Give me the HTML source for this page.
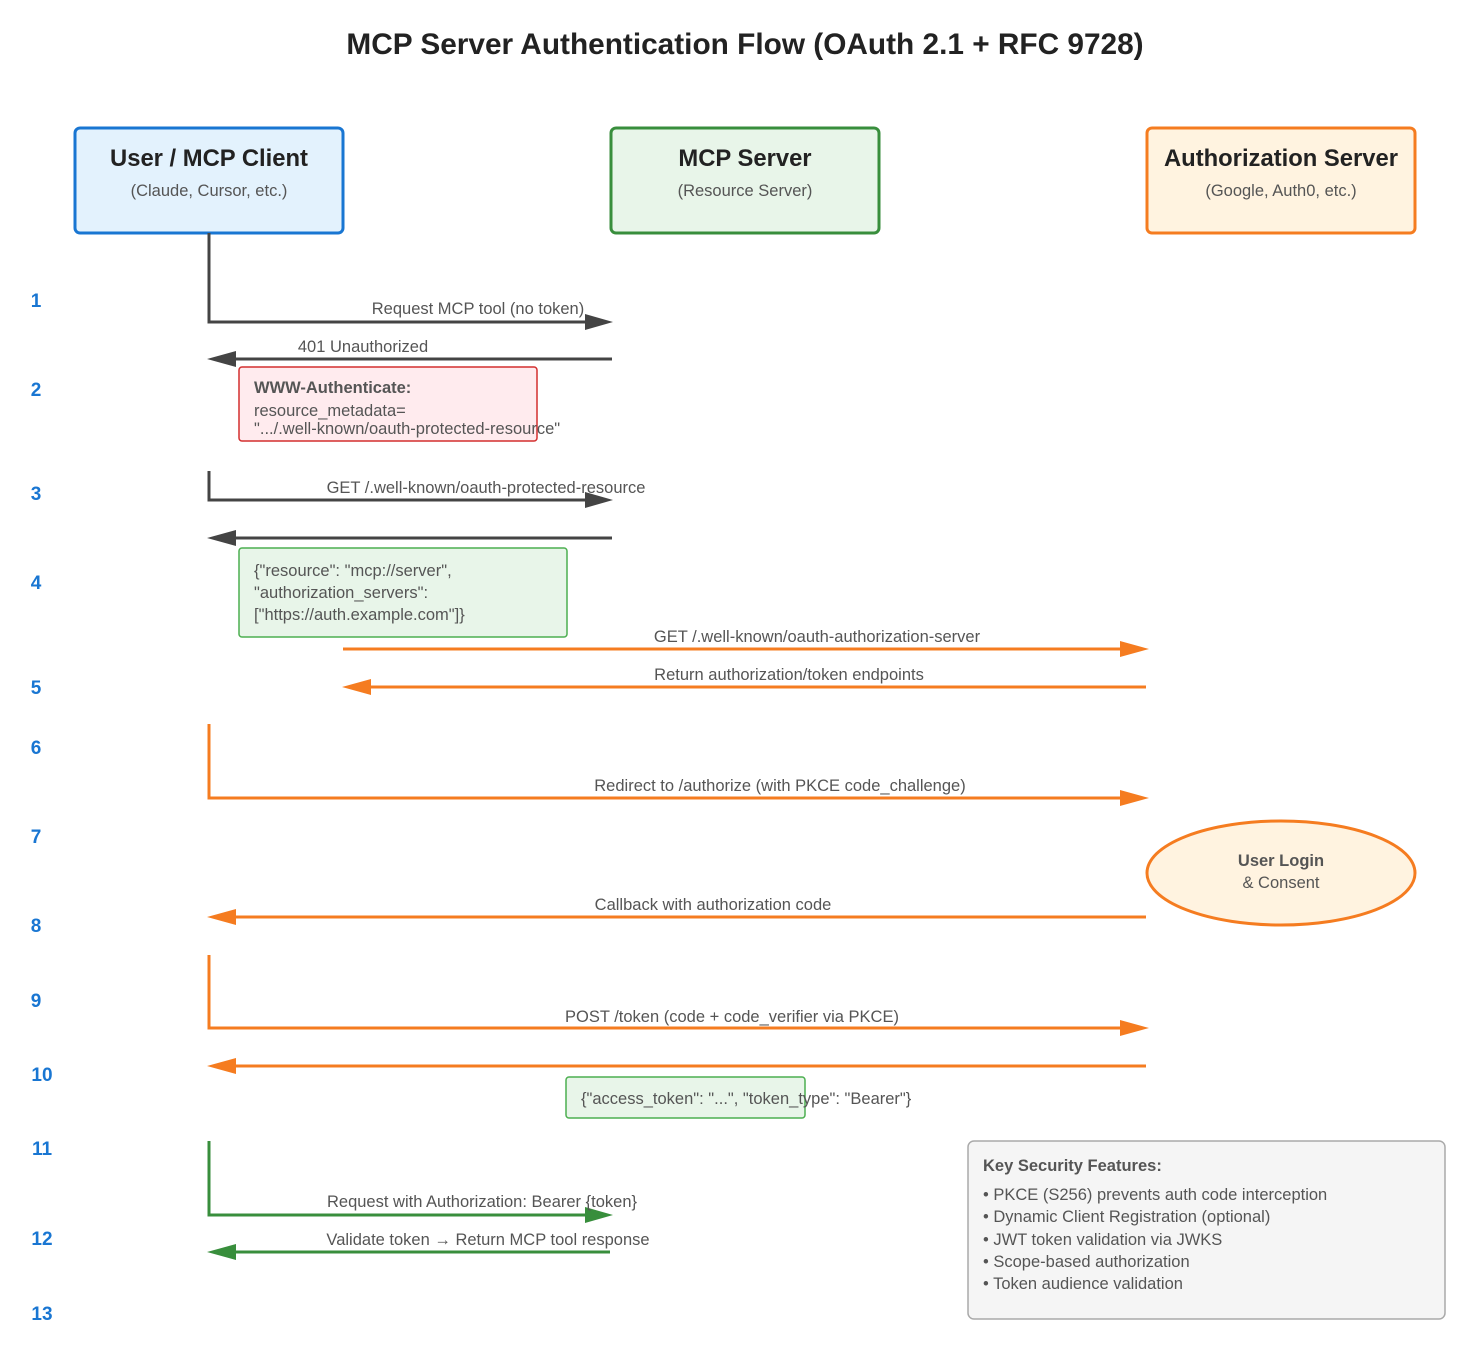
<!DOCTYPE html>
<html><head><meta charset="utf-8"><style>
html,body{margin:0;padding:0;background:#fff;}
svg{display:block;font-family:"Liberation Sans",Arial,sans-serif;}
.lbl{font-size:16.5px;fill:#555;}
.num{font-size:19px;font-weight:bold;fill:#1976d2;}
</style></head><body>
<svg width="1482" height="1350" viewBox="0 0 1482 1350" xmlns="http://www.w3.org/2000/svg">
<text x="745" y="54" text-anchor="middle" font-size="29.8" font-weight="bold" fill="#222">MCP Server Authentication Flow (OAuth 2.1 + RFC 9728)</text>

<rect x="75" y="128" width="268" height="105" rx="5" fill="#e3f2fd" stroke="#1976d2" stroke-width="3"/>
<text x="209" y="166" text-anchor="middle" font-size="23.8" font-weight="bold" fill="#222">User / MCP Client</text>
<text x="209" y="196" text-anchor="middle" class="lbl">(Claude, Cursor, etc.)</text>
<rect x="611" y="128" width="268" height="105" rx="5" fill="#e8f5e9" stroke="#388e3c" stroke-width="3"/>
<text x="745" y="166" text-anchor="middle" font-size="23.8" font-weight="bold" fill="#222">MCP Server</text>
<text x="745" y="196" text-anchor="middle" class="lbl">(Resource Server)</text>
<rect x="1147" y="128" width="268" height="105" rx="5" fill="#fff3e0" stroke="#f57c20" stroke-width="3"/>
<text x="1281" y="166" text-anchor="middle" font-size="23.8" font-weight="bold" fill="#222">Authorization Server</text>
<text x="1281" y="196" text-anchor="middle" class="lbl">(Google, Auth0, etc.)</text>

<text x="36" y="307" text-anchor="middle" class="num">1</text>
<text x="36" y="396" text-anchor="middle" class="num">2</text>
<text x="36" y="500" text-anchor="middle" class="num">3</text>
<text x="36" y="589" text-anchor="middle" class="num">4</text>
<text x="36" y="694" text-anchor="middle" class="num">5</text>
<text x="36" y="754" text-anchor="middle" class="num">6</text>
<text x="36" y="843" text-anchor="middle" class="num">7</text>
<text x="36" y="932" text-anchor="middle" class="num">8</text>
<text x="36" y="1007" text-anchor="middle" class="num">9</text>
<text x="42" y="1081" text-anchor="middle" class="num">10</text>
<text x="42" y="1155" text-anchor="middle" class="num">11</text>
<text x="42" y="1245" text-anchor="middle" class="num">12</text>
<text x="42" y="1320" text-anchor="middle" class="num">13</text>

<g fill="none" stroke="#444" stroke-width="3">
<polyline points="209,233 209,322 590,322"/>
<line x1="612" y1="359" x2="230" y2="359"/>
<polyline points="209,471 209,500 590,500"/>
<line x1="612" y1="538" x2="230" y2="538"/>
</g>
<g fill="#444">
<polygon points="585,314 613,322 585,330"/>
<polygon points="236,351 207,359 236,367"/>
<polygon points="585,492 613,500 585,508"/>
<polygon points="236,530 207,538 236,546"/>
</g>
<text x="478" y="314" text-anchor="middle" class="lbl">Request MCP tool (no token)</text>
<text x="363" y="352" text-anchor="middle" class="lbl">401 Unauthorized</text>
<text x="486" y="493" text-anchor="middle" class="lbl">GET /.well-known/oauth-protected-resource</text>

<rect x="239" y="367" width="298" height="74" rx="3" fill="#ffebee" stroke="#d32f2f" stroke-width="1.5"/>
<text x="254" y="393" font-size="16.5" font-weight="bold" fill="#555">WWW-Authenticate:</text>
<text x="254" y="416" class="lbl">resource_metadata=</text>
<text x="254" y="434" class="lbl">".../.well-known/oauth-protected-resource"</text>

<rect x="239" y="548" width="328" height="89" rx="3" fill="#e8f5e9" stroke="#4caf50" stroke-width="1.5"/>
<text x="254" y="576" class="lbl">{"resource": "mcp://server",</text>
<text x="254" y="598" class="lbl">"authorization_servers":</text>
<text x="254" y="620" class="lbl">["https://auth.example.com"]}</text>

<g fill="none" stroke="#f57c20" stroke-width="3">
<line x1="343" y1="649" x2="1125" y2="649"/>
<line x1="1146" y1="687" x2="365" y2="687"/>
<polyline points="209,724 209,798 1125,798"/>
<line x1="1146" y1="917" x2="230" y2="917"/>
<polyline points="209,955 209,1028 1125,1028"/>
<line x1="1146" y1="1066" x2="230" y2="1066"/>
</g>
<g fill="#f57c20">
<polygon points="1120,641 1149,649 1120,657"/>
<polygon points="371,679 342,687 371,695"/>
<polygon points="1120,790 1149,798 1120,806"/>
<polygon points="236,909 207,917 236,925"/>
<polygon points="1120,1020 1149,1028 1120,1036"/>
<polygon points="236,1058 207,1066 236,1074"/>
</g>
<text x="817" y="642" text-anchor="middle" class="lbl">GET /.well-known/oauth-authorization-server</text>
<text x="789" y="680" text-anchor="middle" class="lbl">Return authorization/token endpoints</text>
<text x="780" y="791" text-anchor="middle" class="lbl">Redirect to /authorize (with PKCE code_challenge)</text>
<text x="713" y="910" text-anchor="middle" class="lbl">Callback with authorization code</text>
<text x="732" y="1022" text-anchor="middle" class="lbl">POST /token (code + code_verifier via PKCE)</text>

<ellipse cx="1281" cy="873" rx="134" ry="52" fill="#fff3e0" stroke="#f57c20" stroke-width="3"/>
<text x="1281" y="866" text-anchor="middle" font-size="16.5" font-weight="bold" fill="#555">User Login</text>
<text x="1281" y="888" text-anchor="middle" class="lbl">&amp; Consent</text>

<rect x="566" y="1077" width="239" height="41" rx="3" fill="#e8f5e9" stroke="#4caf50" stroke-width="1.5"/>
<text x="581" y="1104" class="lbl">{"access_token": "...", "token_type": "Bearer"}</text>

<g fill="none" stroke="#388e3c" stroke-width="3">
<polyline points="209,1141 209,1215 590,1215"/>
<line x1="610" y1="1252" x2="230" y2="1252"/>
</g>
<g fill="#388e3c">
<polygon points="585,1207 613,1215 585,1223"/>
<polygon points="236,1244 207,1252 236,1260"/>
</g>
<text x="482" y="1207" text-anchor="middle" class="lbl">Request with Authorization: Bearer {token}</text>
<text x="488" y="1245" text-anchor="middle" class="lbl">Validate token → Return MCP tool response</text>

<rect x="968" y="1141" width="477" height="178" rx="6" fill="#f5f5f5" stroke="#aaa" stroke-width="1.5"/>
<text x="983" y="1171" font-size="16.5" font-weight="bold" fill="#555">Key Security Features:</text>
<text x="983" y="1200" class="lbl">• PKCE (S256) prevents auth code interception</text>
<text x="983" y="1222" class="lbl">• Dynamic Client Registration (optional)</text>
<text x="983" y="1245" class="lbl">• JWT token validation via JWKS</text>
<text x="983" y="1267" class="lbl">• Scope-based authorization</text>
<text x="983" y="1289" class="lbl">• Token audience validation</text>
</svg>
</body></html>
